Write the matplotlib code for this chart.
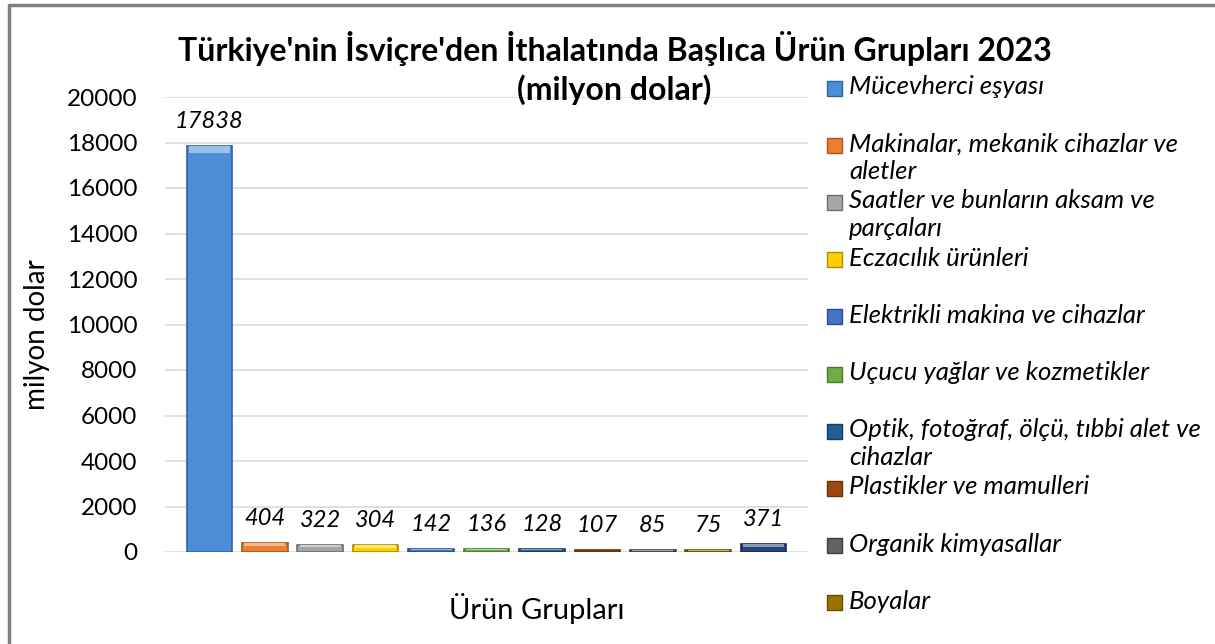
import matplotlib.pyplot as plt
from matplotlib.patches import Rectangle
from matplotlib.lines import Line2D
from matplotlib.colors import to_rgb

plt.rcParams['font.family'] = ['Lato', 'DejaVu Sans']

# data
groups = [
    "Mücevherci eşyası",
    "Makinalar, mekanik cihazlar ve\naletler",
    "Saatler ve bunların aksam ve\nparçaları",
    "Eczacılık ürünleri",
    "Elektrikli makina ve cihazlar",
    "Uçucu yağlar ve kozmetikler",
    "Optik, fotoğraf, ölçü, tıbbi alet ve\ncihazlar",
    "Plastikler ve mamulleri",
    "Organik kimyasallar",
    "Boyalar",
    "Diğer",
]
values = [17838, 404, 322, 304, 142, 136, 128, 107, 85, 75, 371]
colors = ['#4A8FD8', '#ED7D31', '#A5A5A5', '#FFD000', '#4472C4', '#70AD47',
          '#255E91', '#9E480E', '#636363', '#997300', '#264478']
edges = ['#2E64A0', '#A8541A', '#6E6E6E', '#B08A00', '#2C4F8C', '#4B7A2E',
         '#173D60', '#6A2F08', '#3E3E3E', '#664D00', '#172B4D']
yticks = [0, 2000, 4000, 6000, 8000, 10000, 12000, 14000, 16000, 18000, 20000]


def lighten(c, f=0.45):
    r, g, b = to_rgb(c)
    return (r + (1 - r) * f, g + (1 - g) * f, b + (1 - b) * f)


W, H = 1215, 644
fig = plt.figure(figsize=(W / 100, H / 100), dpi=100)
ax = fig.add_axes([165 / W, 1 - 552 / H, (808 - 165) / W, (552 - 97) / H])

x = list(range(len(values)))
ax.bar(x, values, width=0.82, color=colors, edgecolor=edges, linewidth=1.2, zorder=3)
# light bevel strip on top of each bar
hb = [min(v * 0.35, 320) for v in values]
ax.bar(x, hb, bottom=[v - h for v, h in zip(values, hb)], width=0.74,
       color=[lighten(c) for c in colors], linewidth=0, zorder=4)
for xi, v in zip(x, values):
    ax.annotate(str(v), (xi, v), xytext=(0, 10), textcoords='offset points',
                ha='center', va='bottom', fontsize=17, style='italic')

ax.set_xlim(-0.8, len(values) - 0.2)
ax.set_ylim(0, 20000)
ax.set_yticks(yticks)
ax.set_xticks([])
ax.tick_params(axis='y', length=0, labelsize=17.5, pad=20)
ax.grid(axis='y', color='#D9D9D9', linewidth=1.2, zorder=0)
for s in ax.spines.values():
    s.set_visible(False)

fig.text(37 / W, 1 - 335 / H, 'milyon dolar', rotation=90, ha='center', va='center', fontsize=20)
fig.text(537 / W, 1 - 608 / H, 'Ürün Grupları', ha='center', va='center', fontsize=21)
fig.text(615 / W, 1 - 48 / H, "Türkiye'nin İsviçre'den İthalatında Başlıca Ürün Grupları 2023",
         ha='center', va='center', fontsize=23, fontweight='bold')
fig.text(614 / W, 1 - 90 / H, '(milyon dolar)', ha='center', va='center',
         fontsize=23, fontweight='bold')

# legend, drawn by hand to keep Excel-like spacing (first 10 entries)
for i in range(10):
    yc = 88 + i * 57.2
    fig.patches.append(Rectangle((827 / W, 1 - (yc + 7.5) / H), 15 / W, 15 / H,
                                 transform=fig.transFigure, facecolor=colors[i],
                                 edgecolor=edges[i], linewidth=1))
    fig.text(849 / W, 1 - (yc - 13) / H, groups[i], ha='left', va='top',
             fontsize=18.5, style='italic', linespacing=1.25)

# outer frame (top and left visible)
fig.lines.append(Line2D([9 / W, 9 / W, 1], [0, 1 - 5 / H, 1 - 5 / H],
                        transform=fig.transFigure, color='#808080', linewidth=2.5))

fig.savefig('out.png', dpi=100)
